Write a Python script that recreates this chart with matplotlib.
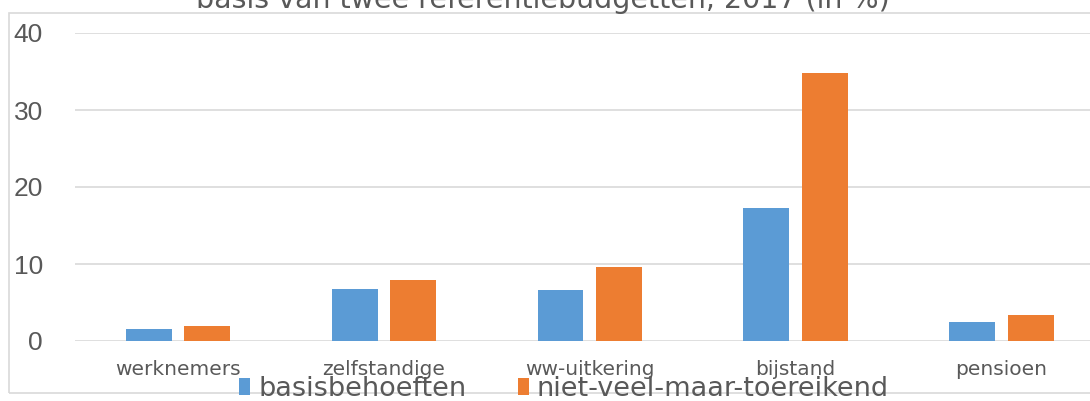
import matplotlib.pyplot as plt
from matplotlib.patches import Rectangle

categories = ["werknemers", "zelfstandige", "ww-uitkering", "bijstand", "pensioen"]
basis = [1.5, 6.7, 6.6, 17.3, 2.5]
niet_veel = [2.0, 7.9, 9.6, 34.8, 3.4]
series_names = ["basisbehoeften", "niet-veel-maar-toereikend"]
title = "basis van twee referentiebudgetten, 2017 (in %)"

blue = "#5B9BD5"
orange = "#ED7D31"
grey_txt = "#595959"

fig = plt.figure(figsize=(10.9, 4.01), dpi=100)
ax = fig.add_axes([75 / 1090, 1 - 341 / 401, 1 - 75 / 1090, 308 / 401])

x = list(range(len(categories)))
w = 0.223
off = 0.142
b1 = ax.bar([i - off for i in x], basis, width=w, color=blue, zorder=3)
b2 = ax.bar([i + off for i in x], niet_veel, width=w, color=orange, zorder=3)

ax.set_ylim(0, 40)
ax.set_xlim(-0.5, 4.43)
ax.set_yticks([0, 10, 20, 30, 40])
ax.grid(axis="y", color="#d9d9d9", lw=1.2, zorder=0)
for s in ax.spines.values():
    s.set_visible(False)
ax.tick_params(axis="both", length=0)
ax.tick_params(axis="y", labelsize=19, labelcolor=grey_txt, pad=23)
ax.set_xticks(x)
ax.set_xticklabels(categories, fontsize=14.5, color=grey_txt, family="Liberation Sans Narrow")
ax.tick_params(axis="x", pad=14)
for lab in ax.get_yticklabels():
    lab.set_family("Liberation Sans")

# frame around the chart
fig.patches.append(Rectangle((9 / 1090, 1 - 393 / 401), 1.2, 380 / 401,
                             transform=fig.transFigure, fill=False,
                             edgecolor="#d9d9d9", lw=1.2))

fig.text(543 / 1090, 1 - 8 / 401, title, ha="center", va="baseline",
         fontsize=20.5, color=grey_txt, family="DejaVu Sans")

fig.legend([b1, b2], series_names, loc="center", bbox_to_anchor=(564 / 1090, 1 - 389 / 401),
           ncol=2, frameon=False, fontsize=19.5, handlelength=0.4, handleheight=0.6,
           handletextpad=0.3, columnspacing=1.9, labelcolor=grey_txt)

fig.savefig("out.png", dpi=100)
